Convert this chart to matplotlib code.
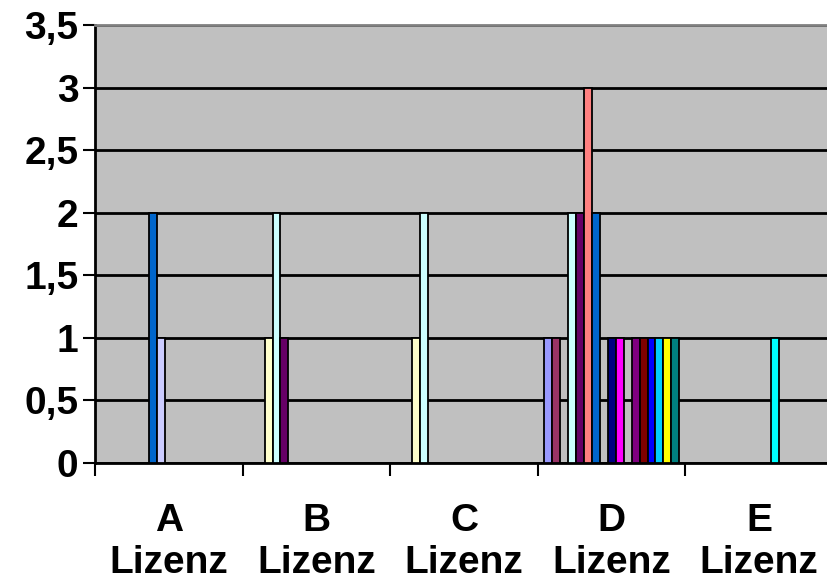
import numpy as np
import matplotlib
matplotlib.use("Agg")
import matplotlib.pyplot as plt

categories = ["A\nLizenz", "B\nLizenz", "C\nLizenz", "D\nLizenz", "E\nLizenz"]

# one row per series (17 series, Excel clustered columns), columns = A..E
series_values = [
    [0, 0, 0, 1, 0],
    [0, 0, 0, 1, 0],
    [0, 1, 1, 0, 0],
    [0, 2, 2, 2, 0],
    [0, 1, 0, 2, 0],
    [0, 0, 0, 3, 0],
    [2, 0, 0, 2, 0],
    [1, 0, 0, 0, 0],
    [0, 0, 0, 1, 0],
    [0, 0, 0, 1, 0],
    [0, 0, 0, 0, 1],
    [0, 0, 0, 1, 0],
    [0, 0, 0, 1, 0],
    [0, 0, 0, 1, 0],
    [0, 0, 0, 1, 0],
    [0, 0, 0, 1, 0],
    [0, 0, 0, 1, 0],
]
series_colors = ["#9999FF", "#993366", "#FFFFCC", "#CCFFFF", "#660066", "#FF8080",
                 "#0066CC", "#CCCCFF", "#000080", "#FF00FF", "#00FFFF", "#800080",
                 "#800000", "#0000FF", "#00CCFF", "#FFFF00", "#008080"]
y_ticks = [0, 0.5, 1, 1.5, 2, 2.5, 3, 3.5]
y_labels = ["0", "0,5", "1", "1,5", "2", "2,5", "3", "3,5"]

plt.rcParams['font.family'] = ['Liberation Sans', 'DejaVu Sans']

fig = plt.figure(figsize=(8.28, 5.87), dpi=100)
ax = fig.add_axes([95/828, 1 - 463/587, 738/828, 438/587])
ax.set_facecolor("#C0C0C0")

n = len(series_values)
w = 1.0 / (n + 1.5)
x = np.arange(len(categories))
for k, (vals, col) in enumerate(zip(series_values, series_colors)):
    v = np.array(vals, dtype=float)
    v[v == 0] = np.nan
    ax.bar(x + (k - (n - 1) / 2) * w, v, width=w, color=col,
           edgecolor="black", linewidth=1.3, zorder=3)

ax.set_xlim(-0.5, len(categories) - 0.5)
ax.set_ylim(0, 3.5)

ax.set_yticks(y_ticks)
ax.set_yticklabels(y_labels, fontsize=28, fontweight="bold")
ax.yaxis.grid(True, color="black", linewidth=2, zorder=1)
ax.set_axisbelow(True)

ax.set_xticks(np.arange(len(categories) + 1) - 0.5)
ax.set_xticklabels([])
ax.set_xticks(x, minor=True)
ax.set_xticklabels(categories, minor=True, fontsize=28, fontweight="bold",
                   linespacing=1.2)
ax.tick_params(axis="x", which="minor", length=0, pad=29)
ax.tick_params(axis="x", which="major", length=9, width=1.5, direction="out")
ax.tick_params(axis="y", length=9, width=1.5, direction="out", pad=3)

for s in ["left", "bottom"]:
    ax.spines[s].set_color("black")
    ax.spines[s].set_linewidth(2)
for s in ["top", "right"]:
    ax.spines[s].set_color("#808080")
    ax.spines[s].set_linewidth(2)

fig.savefig("out.png", dpi=100)
